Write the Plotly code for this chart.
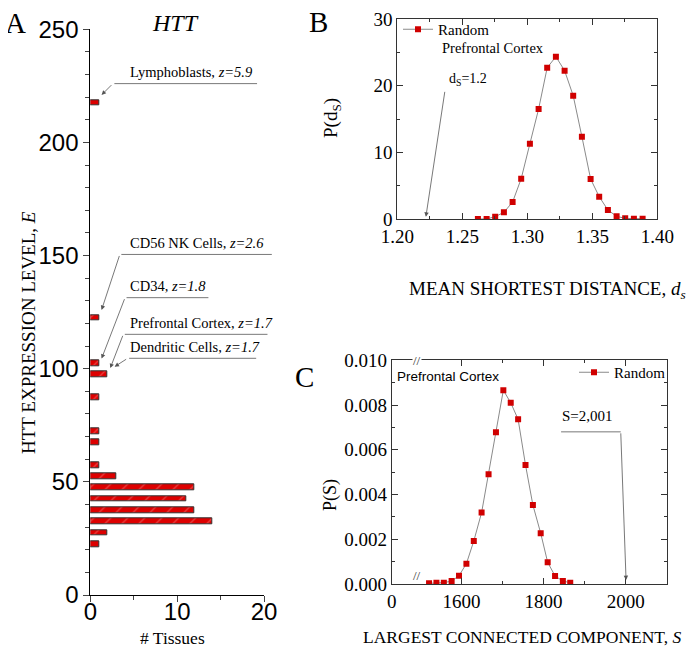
import plotly.graph_objects as go

SERIF = "Liberation Serif"
SANS = "Liberation Sans"

########### Data ######

# Panel A: histogram of HTT expression (bin centres, number of tissues)
expr_bins = [22.5, 27.5, 32.5, 37.5, 42.5, 47.5, 52.5, 57.5, 67.5, 72.5,
             87.5, 97.5, 102.5, 122.5, 217.5]
tissue_counts = [1, 2, 14, 12, 11, 12, 3, 1, 1, 1, 1, 2, 1, 1, 1]

# Panel B: mean shortest distance, random sets
ds_vals = [1.262, 1.2687, 1.2753, 1.282, 1.2887, 1.2953, 1.302, 1.3087, 1.3153, 1.322,
           1.3287, 1.3353, 1.342, 1.3487, 1.3553, 1.362, 1.3687, 1.3753, 1.382, 1.3887]
p_ds = [0.0, 0.0, 0.35, 1.0, 2.55, 6.05, 11.3, 16.5, 22.7, 24.35,
        22.25, 18.5, 12.35, 6.0, 3.35, 1.35, 0.4, 0.1, 0.05, 0.05]

# Panel C: largest connected component, random sets
s_vals = [1521, 1539, 1557, 1576, 1594, 1612, 1630, 1649, 1666, 1684,
          1702, 1720, 1738, 1756, 1774, 1793, 1810, 1828, 1847, 1865]
p_s = [0.00003, 0.00006, 0.00006, 0.00013, 0.00037, 0.00091, 0.00192, 0.00319, 0.0049, 0.00678,
       0.00866, 0.0081, 0.00736, 0.00532, 0.00353, 0.00227, 0.00097, 0.00036, 0.00013, 0.00006]

# labelled tissues in panel A
tissue_labels = ["Lymphoblasts, <i>z=5.9</i>", "CD56 NK Cells, <i>z=2.6</i>", "CD34, <i>z=1.8</i>",
                 "Prefrontal Cortex, <i>z=1.7</i>", "Dendritic Cells, <i>z=1.7</i>"]

observed_ds = 1.222
observed_s = 2001

########### Layout helpers ######

# the page body has an 8px margin, so the figure is drawn 8px in from the window corner
W, H, OFF = 689, 640, 8

def fx(p):
    return (p - OFF) / W

def fy(p):
    return 1 - (p - OFF) / H

########### Figure ######

fig = go.Figure()

fig.add_trace(go.Bar(
    orientation="h", y=expr_bins, x=tissue_counts, width=2.6,
    xaxis="x", yaxis="y", showlegend=False,
    marker=dict(color="#dd0000", line=dict(color="#333333", width=1),
                pattern=dict(shape="/", fgcolor="rgba(255,190,190,0.8)", size=12, solidity=0.1)),
))

fig.add_trace(go.Scatter(
    x=ds_vals, y=p_ds, mode="lines+markers", name="Random",
    xaxis="x2", yaxis="y2", legend="legend",
    line=dict(color="#8a8a8a", width=1),
    marker=dict(symbol="square", size=6, color="#d00000"),
))

fig.add_trace(go.Scatter(
    x=s_vals, y=p_s, mode="lines+markers", name="Random",
    xaxis="x3", yaxis="y3", legend="legend2",
    line=dict(color="#8a8a8a", width=1),
    marker=dict(symbol="square", size=6, color="#d00000"),
))

ax_common = dict(showline=True, linecolor="black", linewidth=1, showgrid=False, zeroline=False,
                 automargin=False)
box_common = dict(showline=True, linecolor="#333333", linewidth=1, showgrid=False, zeroline=False,
                  mirror="ticks", ticks="inside", ticklen=6, tickcolor="#333333", automargin=False,
                  tickfont=dict(family=SERIF, size=19, color="black"))

fig.update_layout(
    width=W, height=H,
    margin=dict(l=0, r=0, t=0, b=0, autoexpand=False),
    paper_bgcolor="white", plot_bgcolor="white",
    bargap=0,
    # panel A
    xaxis=dict(domain=[fx(90.3), fx(264)], anchor="y", range=[0, 20], tickvals=[0, 10, 20],
               ticks="outside", ticklen=6, ticklabelstandoff=-11,
               minor=dict(ticks="outside", ticklen=4, dtick=5, tick0=0),
               tickfont=dict(family=SANS, size=24, color="black"), **ax_common),
    yaxis=dict(domain=[fy(595), fy(29.3)], anchor="x", range=[0, 250], dtick=50,
               ticks="outside", ticklen=6,
               minor=dict(ticks="outside", ticklen=4, dtick=10, tick0=0),
               tickfont=dict(family=SANS, size=24, color="black"), **ax_common),
    # panel B
    xaxis2=dict(domain=[fx(397.3), fx(657.3)], anchor="y2", range=[1.2, 1.4], dtick=0.05, tick0=1.2,
                tickformat=".2f", minor=dict(ticks="inside", ticklen=3, dtick=0.025, tick0=1.2),
                **box_common),
    yaxis2=dict(domain=[fy(219), fy(19)], anchor="x2", range=[0, 30], dtick=10,
                minor=dict(ticks="inside", ticklen=3, dtick=5, tick0=0), **box_common),
    # panel C
    xaxis3=dict(domain=[fx(391.7), fx(666.7)], anchor="y3", range=[1430, 2100],
                tickvals=[1430, 1600, 1800, 2000], ticktext=["0", "1600", "1800", "2000"],
                minor=dict(ticks="inside", ticklen=3, tickvals=[1700, 1900]), **box_common),
    yaxis3=dict(domain=[fy(584), fy(360.25)], anchor="x3", range=[0, 0.010], dtick=0.002,
                tickformat=".3f", minor=dict(ticks="inside", ticklen=3, dtick=0.001, tick0=0),
                **box_common),
    legend=dict(x=fx(398), y=fy(13), xanchor="left", yanchor="top", bgcolor="rgba(0,0,0,0)",
                font=dict(family=SERIF, size=15, color="black"), itemwidth=30,
                tracegroupgap=0),
    legend2=dict(x=fx(671), y=fy(356), xanchor="right", yanchor="top", bgcolor="rgba(0,0,0,0)",
                 font=dict(family=SERIF, size=15, color="black"), itemwidth=30),
)

ann = []

def txt(x, y, text, size, family=SERIF, angle=0, xanchor="center", yanchor="middle", color="black"):
    ann.append(dict(x=fx(x), y=fy(y), xref="paper", yref="paper", text=text, showarrow=False,
                    textangle=angle, xanchor=xanchor, yanchor=yanchor,
                    font=dict(family=family, size=size, color=color)))

def seg(x0, y0, x1, y1, ax="x", ay="y", head=0):
    # line from (x0, y0) to (x1, y1) in axis units, optional arrow head at the end
    ann.append(dict(x=x1, y=y1, ax=x0, ay=y0, xref=ax, yref=ay, axref=ax, ayref=ay,
                    text="", showarrow=True, arrowhead=head, arrowsize=1.1, arrowwidth=0.8,
                    arrowcolor="#555555", standoff=0, startstandoff=0))

# panel letters and titles
txt(15, 23, "A", 29)
txt(318, 22, "B", 29)
txt(304, 377, "C", 29)
txt(175, 23, "<i>HTT</i>", 24)
txt(28, 333, "HTT EXPRESSION LEVEL, <i>E</i>", 19, angle=-90)
txt(172, 638, "# Tissues", 17.5)
txt(332, 118, "P(d<sub>S</sub>)", 19, angle=-90)
txt(407, 290, "MEAN SHORTEST DISTANCE, <i>d<sub>s</sub></i>", 19, xanchor="left")
txt(330, 495, "P(S)", 18, angle=-90)
txt(361, 637, "LARGEST CONNECTED COMPONENT, <i>S</i>", 17.5, xanchor="left")
txt(440, 48, "Prefrontal Cortex", 14.5, xanchor="left")
txt(395, 376, "Prefrontal Cortex", 13.5, family=SANS, xanchor="left")

# panel A labels: (underline start, underline end, underline y, arrow head x, head y)
label_geom = [
    (2.6, 19.2, 226.0, 1.3, 221.0),
    (3.4, 20.9, 150.5, 1.3, 126.0),
    (4.0, 13.6, 131.4, 1.3, 104.5),
    (3.8, 20.4, 115.2, 2.3, 100.3),
    (4.3, 19.1, 104.6, 2.8, 100.9),
]
for label, (x0, x1, ly, hx, hy) in zip(tissue_labels, label_geom):
    seg(x0, ly, x1, ly)
    seg(x0, ly, hx, hy, head=2)
    ann.append(dict(x=4.3, y=ly + 0.8, xref="x", yref="y", text=label, showarrow=False,
                    xanchor="left", yanchor="bottom",
                    font=dict(family=SERIF, size=14.5, color="black")))

# panel B observed value
seg(1.2367, 19.3, observed_ds, 0.35, ax="x2", ay="y2", head=2)
ann.append(dict(x=1.2382, y=20.9, xref="x2", yref="y2", text="d<sub>S</sub>=1.2", showarrow=False,
                xanchor="left", yanchor="middle", font=dict(family=SERIF, size=14, color="black")))

# panel C observed value
seg(1839, 0.0068, 1988, 0.0068, ax="x3", ay="y3")
seg(1988, 0.0068, observed_s, 0.00018, ax="x3", ay="y3", head=2)
ann.append(dict(x=1840, y=0.00705, xref="x3", yref="y3", text="S=2,001", showarrow=False,
                xanchor="left", yanchor="bottom", font=dict(family=SERIF, size=15, color="black")))

# axis break marks on panel C
for yy in [584, 360]:
    ann.append(dict(x=fx(417), y=fy(yy), xref="paper", yref="paper", text="//", showarrow=False,
                    bgcolor="white", borderpad=0,
                    font=dict(family=SERIF, size=13, color="#333333")))

fig.update_layout(annotations=ann)

fig.write_html("out.html")
